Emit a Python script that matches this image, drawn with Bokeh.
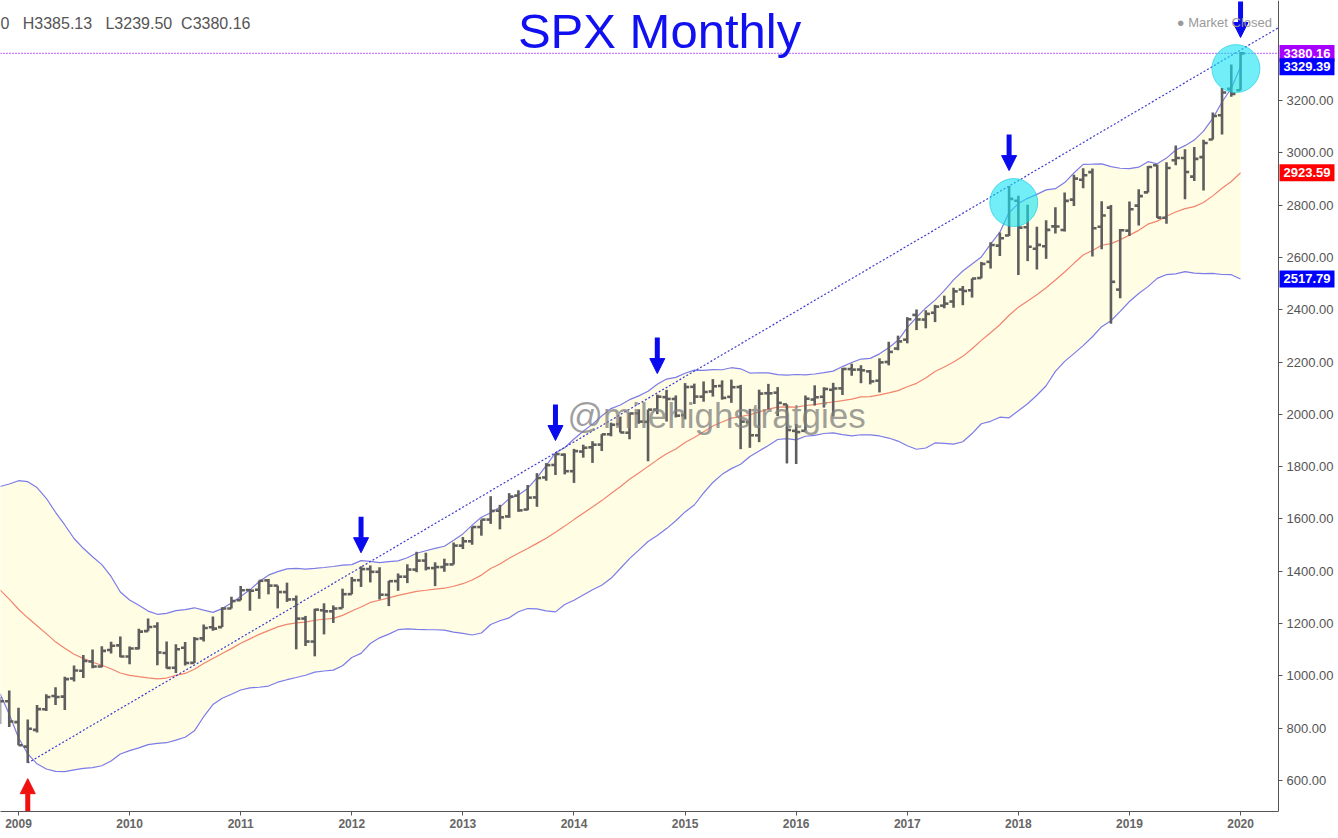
import numpy as np
import pandas as pd
from bokeh.plotting import figure
from bokeh.models import (Range1d, FixedTicker, NumeralTickFormatter, Label,
                          Arrow, NormalHead, ColumnDataSource)
from bokeh.embed import file_html
from bokeh.resources import INLINE

# ---------------- data: SPX monthly bars, Dec 2008 .. Feb 2020 ----------------
first_month = "2008-12-01"
opens = [888.61,
 902.99, 823.09, 729.57, 793.59, 872.74, 923.26, 920.82, 990.22, 1019.52, 1054.91, 1036.18, 1098.89,
 1116.56, 1073.89, 1105.36, 1171.23, 1188.58, 1087.30, 1031.10, 1107.53, 1049.72, 1143.49, 1185.71, 1186.60,
 1257.62, 1289.14, 1328.64, 1329.48, 1365.21, 1345.20, 1320.64, 1292.59, 1219.12, 1131.21, 1251.00, 1246.91,
 1258.86, 1312.45, 1365.90, 1408.47, 1397.86, 1309.87, 1362.33, 1379.32, 1406.54, 1440.90, 1412.20, 1416.18,
 1426.19, 1498.11, 1514.68, 1569.18, 1597.55, 1631.71, 1609.78, 1689.42, 1635.95, 1682.41, 1758.70, 1806.55,
 1845.86, 1782.68, 1857.68, 1873.96, 1884.39, 1923.87, 1962.29, 1929.80, 2004.07, 1971.44, 2018.21, 2065.78,
 2058.90, 1996.67, 2105.23, 2067.63, 2087.38, 2108.64, 2067.00, 2104.49, 1970.09, 1919.65, 2080.76, 2082.93,
 2038.20, 1936.94, 1937.09, 2056.62, 2067.17, 2093.94, 2099.34, 2173.15, 2171.33, 2164.33, 2128.68, 2200.17,
 2251.57, 2285.59, 2380.13, 2362.34, 2388.50, 2415.65, 2431.39, 2477.10, 2474.42, 2521.20, 2583.21, 2645.10,
 2683.73, 2816.45, 2715.22, 2633.45, 2642.96, 2718.70, 2704.95, 2821.17, 2896.96, 2926.29, 2717.58, 2790.50,
 2476.96, 2702.32, 2798.22, 2848.63, 2952.33, 2751.53, 2971.41, 2980.32, 2909.01, 2983.69, 3050.72, 3143.85,
 3244.67, 3239.50]
highs = [918.85,
 943.85, 877.86, 832.98, 888.70, 930.17, 956.23, 996.68, 1039.47, 1080.15, 1101.36, 1113.69, 1130.38,
 1150.45, 1112.42, 1180.16, 1219.80, 1205.13, 1131.23, 1120.95, 1129.24, 1148.67, 1196.14, 1227.08, 1262.60,
 1302.67, 1344.07, 1332.28, 1364.56, 1370.58, 1345.20, 1356.48, 1307.38, 1229.29, 1256.55, 1277.55, 1269.37,
 1333.47, 1378.04, 1419.15, 1422.38, 1415.32, 1363.46, 1391.74, 1426.68, 1474.51, 1470.96, 1434.27, 1448.00,
 1509.94, 1530.94, 1570.28, 1597.57, 1687.18, 1654.19, 1698.78, 1709.67, 1729.86, 1775.22, 1813.55, 1849.44,
 1850.84, 1867.92, 1883.97, 1897.28, 1924.03, 1968.17, 1991.39, 2005.04, 2019.26, 2018.19, 2075.76, 2093.55,
 2072.36, 2119.59, 2117.52, 2125.92, 2134.72, 2129.87, 2132.82, 2112.66, 2020.86, 2094.32, 2116.48, 2104.27,
 2038.20, 1962.96, 2072.21, 2111.05, 2103.48, 2120.55, 2177.09, 2193.81, 2187.87, 2169.60, 2214.10, 2277.53,
 2300.99, 2371.54, 2400.98, 2398.16, 2418.71, 2453.82, 2484.04, 2490.87, 2519.44, 2582.98, 2657.74, 2694.97,
 2872.87, 2835.96, 2801.90, 2717.49, 2742.24, 2791.47, 2848.03, 2916.50, 2940.91, 2939.86, 2815.15, 2800.18,
 2708.95, 2813.49, 2860.31, 2949.52, 2954.13, 2964.15, 3027.98, 3013.59, 3021.99, 3050.10, 3154.26, 3247.93,
 3337.77, 3385.13]
lows = [815.69,
 804.30, 734.52, 666.79, 783.32, 866.10, 888.86, 869.32, 978.51, 991.97, 1029.38, 1033.38, 1085.89,
 1071.59, 1044.50, 1101.91, 1170.69, 1040.78, 1028.33, 1010.91, 1039.70, 1049.72, 1131.87, 1173.00, 1186.60,
 1257.62, 1289.14, 1249.05, 1294.70, 1311.80, 1258.07, 1282.86, 1101.54, 1114.22, 1074.77, 1158.66, 1202.37,
 1258.86, 1312.45, 1340.03, 1357.38, 1291.98, 1266.74, 1325.41, 1354.65, 1396.56, 1403.28, 1343.35, 1398.11,
 1426.19, 1485.01, 1501.48, 1536.03, 1581.28, 1560.33, 1604.57, 1627.47, 1633.41, 1646.47, 1746.20, 1767.99,
 1770.45, 1737.92, 1834.44, 1814.36, 1859.79, 1915.98, 1930.67, 1904.78, 1964.04, 1820.66, 2001.01, 1972.56,
 1988.12, 1980.90, 2039.69, 2048.38, 2067.93, 2056.32, 2044.02, 1867.01, 1871.91, 1893.70, 2019.39, 1993.26,
 1812.29, 1810.10, 1937.09, 2033.80, 2025.91, 1991.68, 2074.02, 2147.58, 2119.12, 2114.72, 2083.79, 2187.44,
 2245.13, 2271.65, 2322.25, 2328.95, 2352.72, 2405.70, 2407.70, 2417.35, 2446.55, 2520.40, 2557.45, 2605.52,
 2682.36, 2532.69, 2585.89, 2553.80, 2594.62, 2691.99, 2698.95, 2796.34, 2864.12, 2603.54, 2631.09, 2346.58,
 2443.96, 2681.83, 2722.27, 2848.63, 2750.52, 2728.81, 2952.22, 2822.12, 2891.85, 2855.94, 3050.72, 3070.33,
 3214.64, 3239.50]
closes = [903.25,
 825.88, 735.09, 797.87, 872.81, 919.14, 919.32, 987.48, 1020.62, 1057.08, 1036.19, 1095.63, 1115.10,
 1073.87, 1104.49, 1169.43, 1186.69, 1089.41, 1030.71, 1101.60, 1049.33, 1141.20, 1183.26, 1180.55, 1257.64,
 1286.12, 1327.22, 1325.83, 1363.61, 1345.20, 1320.64, 1292.28, 1218.89, 1131.42, 1253.30, 1246.96, 1257.60,
 1312.41, 1365.68, 1408.47, 1397.91, 1310.33, 1362.16, 1379.32, 1406.58, 1440.67, 1412.16, 1416.18, 1426.19,
 1498.11, 1514.68, 1569.19, 1597.57, 1630.74, 1606.28, 1685.73, 1632.97, 1681.55, 1756.54, 1805.81, 1848.36,
 1782.59, 1859.45, 1872.34, 1883.95, 1923.57, 1960.23, 1930.67, 2003.37, 1972.29, 2018.05, 2067.56, 2058.90,
 1994.99, 2104.50, 2067.89, 2085.51, 2107.39, 2063.11, 2103.84, 1972.18, 1920.03, 2079.36, 2080.41, 2043.94,
 1940.24, 1932.23, 2059.74, 2065.30, 2096.95, 2098.86, 2173.60, 2170.95, 2168.27, 2126.15, 2198.81, 2238.83,
 2278.87, 2363.64, 2362.72, 2384.20, 2411.80, 2423.41, 2470.30, 2471.65, 2519.36, 2575.26, 2647.58, 2673.61,
 2823.81, 2713.83, 2640.87, 2648.05, 2705.27, 2718.37, 2816.29, 2901.52, 2913.98, 2711.74, 2760.17, 2506.85,
 2704.10, 2784.49, 2834.40, 2945.83, 2752.06, 2941.76, 2980.38, 2926.46, 2976.74, 3037.56, 3140.98, 3230.78,
 3225.52, 3380.16]
# closes Apr 2007 .. Nov 2008 (history for the 20-month Bollinger bands)
pre_closes = [1482.37, 1530.62, 1503.35, 1455.27, 1473.99, 1526.75, 1549.38, 1481.14, 1468.36, 1378.55,
              1330.63, 1322.70, 1385.59, 1400.38, 1280.00, 1267.38, 1282.83, 1166.36, 968.75, 896.24]

year_labels = ["2009", "2010", "2011", "2012", "2013", "2014", "2015", "2016", "2017", "2018", "2019", "2020"]
y_ticks = [600, 800, 1000, 1200, 1400, 1600, 1800, 2000, 2200, 2400, 2600, 2800, 3000, 3200]

# annotations
down_arrow_months = ["2012-03", "2013-12", "2014-11", "2018-01", "2020-02"]
down_arrow_tips = [1471, 1900, 2156, 2932, 3441]
up_arrow_month = "2009-03"
up_arrow_tip = 607
circle_months = ["2018-01", "2020-02"]
circle_prices = [2810, 3322]
trend_from = "2009-03"   # anchored at that month's low
trend_to = "2018-01"     # touches that month's high
watermark = "@milehighstratgies"
title_text = "SPX Monthly"

# ---------------- derived ----------------
dates = pd.date_range(first_month, periods=len(closes), freq="MS")
x = np.arange(-1, len(closes) - 1, dtype=float)
mkey = [d.strftime("%Y-%m") for d in dates]
pos = {k: xi for k, xi in zip(mkey, x)}

allc = pd.Series(pre_closes + closes, dtype=float)
basis = allc.rolling(20).mean().to_numpy()[-len(closes):]
dev = allc.rolling(20).std(ddof=0).to_numpy()[-len(closes):]
upper = basis + 2 * dev
lower = basis - 2 * dev

# frame covers the whole width; the price axis is pinned inside it at XA
FW, FH = 1337, 811
PX_PER_MONTH = 9.258
X0 = -0.944
XA = X0 + 1278 / PX_PER_MONTH
X1 = X0 + FW / PX_PER_MONTH
Y0, Y1 = 481.5, 3582.4

p = figure(frame_width=FW, frame_height=FH, x_range=Range1d(X0, X1), y_range=Range1d(Y0, Y1),
           output_backend="svg", toolbar_location=None, y_axis_location="right",
           min_border_left=0, min_border_top=0, min_border_right=0, min_border_bottom=23,
           background_fill_color="white", border_fill_color="white")
p.outline_line_color = None
p.xgrid.visible = False
p.ygrid.visible = False

# Bollinger fill and lines
p.varea(x=x, y1=lower, y2=upper, fill_color="#fffde3", fill_alpha=1.0)
p.line(x, upper, line_color="#7c7ce8", line_width=1.2)
p.line(x, lower, line_color="#7c7ce8", line_width=1.2)
p.line(x, basis, line_color="#f2846f", line_width=1.2)

# trend line through the 2009 low and 2018 high, extended to the price axis
xa, ya = pos[trend_from], lows[mkey.index(trend_from)]
xb, yb = pos[trend_to], highs[mkey.index(trend_to)]
slope = (yb - ya) / (xb - xa)
p.line([xa, XA], [ya, ya + slope * (XA - xa)], line_color="#3b3bd0", line_width=1.2, line_dash="2 2")

# last price line
p.line([X0, XA], [closes[-1], closes[-1]], line_color="#9900ff", line_width=1.4, line_dash="1 2")

# OHLC bars
bar_color = "#5e5e5e"
src = ColumnDataSource(dict(x=x, o=opens, h=highs, l=lows, c=closes, xl=x - 0.45, xr=x + 0.45))
p.segment(x0="x", y0="l", x1="x", y1="h", source=src, line_color=bar_color, line_width=2.6)
p.segment(x0="xl", y0="o", x1="x", y1="o", source=src, line_color=bar_color, line_width=2.6)
p.segment(x0="x", y0="c", x1="xr", y1="c", source=src, line_color=bar_color, line_width=2.6)

# circles
p.scatter([pos[m] + (0.5 if i == 0 else -0.5) for i, m in enumerate(circle_months)], circle_prices,
          marker="circle", size=48, fill_color="#12e2f2", fill_alpha=0.6,
          line_color="#10c8e0", line_alpha=0.6, line_width=1)

# arrows
px_per_price = FH / (Y1 - Y0)
alen = 36 / px_per_price
for m, tip in zip(down_arrow_months, down_arrow_tips):
    p.add_layout(Arrow(x_start=pos[m], y_start=tip + alen, x_end=pos[m], y_end=tip,
                       line_color="#0a0aee", line_width=5,
                       end=NormalHead(size=15, fill_color="#0a0aee", line_color="#0a0aee")))
p.add_layout(Arrow(x_start=pos[up_arrow_month], y_start=Y0 + 1, x_end=pos[up_arrow_month], y_end=up_arrow_tip,
                   line_color="#f01010", line_width=5,
                   end=NormalHead(size=15, fill_color="#f01010", line_color="#f01010")))

# texts
NB = "\u00a0"
p.add_layout(Label(x=70.24, y=3467, text=title_text, text_align="center", text_baseline="middle",
                   text_font="Liberation Sans", text_font_size="49px", text_color="#1010f0"))
p.add_layout(Label(x=60.3, y=1995, text=watermark, text_align="left", text_baseline="middle",
                   text_font="Liberation Sans", text_font_size="35px", text_color="#808080",
                   text_alpha=0.75))
header = "0" + NB * 3 + f"H{highs[-1]:.2f}" + NB * 3 + f"L{lows[-1]:.2f}" + NB * 2 + f"C{closes[-1]:.2f}"
p.add_layout(Label(x=X0, y=3494, text=header, text_align="left", text_baseline="middle",
                   text_font="Liberation Sans", text_font_size="16px", text_color="#555555"))
p.add_layout(Label(x=136.4, y=3497, text="\u25cf" + NB + "Market Closed", text_align="right",
                   text_baseline="middle", text_font="Liberation Sans", text_font_size="13px",
                   text_color="#9a9a9a"))

# price tags on the right axis
tags = [(closes[-1], "#a800ff"), (upper[-1], "#0000ff"), (basis[-1], "#ff0000"), (lower[-1], "#0000ff")]
for val, col in tags:
    p.add_layout(Label(x=XA, y=val, x_offset=1, text=f"{val:.2f}",
                       text_align="left", text_baseline="middle", level="overlay",
                       text_font="Liberation Sans", text_font_size="13px", text_font_style="bold",
                       text_color="white", background_fill_color=col, padding=4))

# axes
yax = p.yaxis[0]
yax.fixed_location = XA
yax.ticker = FixedTicker(ticks=y_ticks)
yax.formatter = NumeralTickFormatter(format="0.00")
yax.major_label_text_font = "Liberation Sans"
yax.major_label_text_font_size = "13px"
yax.major_label_text_color = "#555555"
yax.axis_line_color = "#555555"
yax.major_tick_line_color = "#555555"
yax.major_tick_out = 4
yax.major_tick_in = 0
yax.minor_tick_line_color = None
yax.major_label_standoff = 4

xax = p.xaxis[0]
year_pos = [float(xi) for xi, d in zip(x, dates) if d.month == 2]
xax.ticker = FixedTicker(ticks=year_pos)
xax.bounds = (X0, XA)
xax.major_label_overrides = {xp: lab for xp, lab in zip(year_pos, year_labels)}
xax.major_label_text_font = "Liberation Sans"
xax.major_label_text_font_size = "12px"
xax.major_label_text_font_style = "bold"
xax.major_label_text_color = "#666666"
xax.axis_line_color = "#555555"
xax.major_tick_line_color = "#555555"
xax.major_tick_out = 4
xax.major_tick_in = 0
xax.minor_tick_line_color = None
xax.major_label_standoff = 3

open("out.html", "w").write(file_html(p, INLINE))
